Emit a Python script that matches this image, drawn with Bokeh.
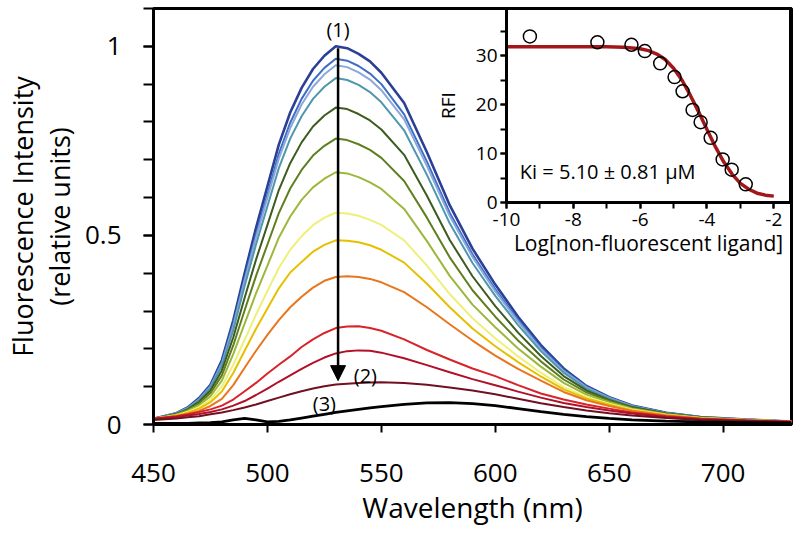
from bokeh.plotting import figure
from bokeh.models import Range1d, SingleIntervalTicker, Arrow, NormalHead, Label
from bokeh.embed import file_html
from bokeh.resources import INLINE

FONT = "Open Sans"

# ---------------- data: emission spectra ----------------
wavelength = [450, 460, 465, 470, 475, 480, 485, 490, 495, 500,
              505, 510, 515, 520, 525, 530, 535, 540, 545, 550,
              560, 570, 580, 590, 600, 610, 620, 630, 640, 650,
              660, 675, 690, 710, 730]

s_navy = [.015, .03, .045, .07, .105, .17, .275, .40, .52, .63,
          .74, .825, .89, .94, .975, 1.0, .995, .98, .96, .93,
          .85, .72, .58, .465, .37, .285, .21, .148, .102, .072,
          .05, .031, .02, .013, .008]
s_blue = [.015, .03, .044, .068, .102, .165, .266, .387, .503, .609,
          .716, .798, .861, .909, .943, .967, .962, .948, .928, .90,
          .82, .695, .56, .45, .358, .277, .204, .144, .1, .071,
          .049, .031, .02, .013, .008]
s_lightblue = [.015, .03, .043, .066, .1, .16, .26, .38, .494, .599,
               .703, .784, .846, .893, .926, .95, .945, .931, .912, .884,
               .807, .684, .551, .443, .352, .272, .2, .141, .098, .07,
               .049, .03, .019, .013, .008]
s_teal = [.015, .029, .042, .064, .097, .155, .25, .366, .476, .577,
          .678, .756, .815, .861, .893, .916, .911, .898, .879, .852,
          .778, .66, .532, .427, .34, .263, .194, .137, .095, .068,
          .048, .03, .019, .013, .008]
s_darkgreen = [.015, .028, .04, .06, .09, .143, .23, .335, .436, .528,
               .62, .691, .746, .788, .817, .838, .834, .821, .804, .78,
               .713, .605, .488, .392, .313, .243, .181, .128, .09, .065,
               .046, .029, .019, .012, .008]
s_olive = [.015, .027, .038, .056, .083, .13, .209, .302, .393, .476,
           .559, .624, .673, .711, .737, .756, .752, .741, .726, .705,
           .644, .547, .442, .355, .285, .222, .167, .119, .085, .062,
           .044, .028, .018, .012, .008]
s_yellowgreen = [.015, .026, .036, .051, .075, .116, .186, .267, .347, .42,
                 .494, .55, .594, .627, .65, .667, .664, .654, .64, .623,
                 .57, .485, .393, .317, .257, .201, .153, .11, .079, .059,
                 .042, .027, .018, .012, .008]
s_paleyellow = [.015, .024, .033, .046, .066, .10, .158, .224, .291, .353,
                .414, .462, .498, .527, .547, .56, .558, .552, .541, .528,
                .487, .42, .345, .281, .228, .18, .137, .099, .073, .055,
                .04, .026, .017, .012, .008]
s_gold = [.015, .023, .031, .042, .059, .087, .136, .195, .253, .307,
          .36, .402, .43, .457, .475, .487, .486, .482, .474, .462,
          .428, .372, .31, .254, .207, .165, .127, .093, .069, .052,
          .038, .025, .017, .012, .008]
s_orange = [.015, .022, .028, .036, .049, .068, .104, .15, .195, .237,
            .276, .31, .338, .362, .38, .39, .392, .39, .385, .376,
            .35, .31, .265, .222, .182, .147, .116, .086, .064, .049,
            .036, .024, .016, .011, .008]
s_red = [.015, .022, .027, .033, .04, .05, .066, .088, .11, .135,
         .158, .18, .205, .225, .242, .255, .259, .26, .255, .248,
         .225, .197, .172, .148, .128, .104, .082, .066, .053, .042,
         .032, .022, .015, .011, .007]
s_crimson = [.015, .02, .024, .028, .033, .04, .05, .062, .078, .095,
             .113, .13, .147, .163, .177, .188, .194, .196, .195, .19,
             .175, .157, .138, .12, .104, .087, .071, .057, .046, .037,
             .029, .02, .014, .01, .007]
s_maroon = [.012, .016, .019, .022, .027, .032, .038, .045, .053, .062,
            .071, .08, .088, .095, .101, .106, .108, .11, .111, .112,
            .11, .105, .098, .09, .08, .068, .056, .046, .037, .03,
            .024, .017, .012, .009, .006]
s_black = [.003, .003, .003, .004, .005, .007, .012, .016, .012, .007,
           .008, .012, .017, .022, .027, .032, .036, .04, .044, .047,
           .053, .057, .058, .055, .05, .042, .034, .027, .021, .016,
           .012, .009, .007, .005, .004]

spectra = [s_navy, s_blue, s_lightblue, s_teal, s_darkgreen, s_olive, s_yellowgreen,
           s_paleyellow, s_gold, s_orange, s_red, s_crimson, s_maroon, s_black]
spectra_colors = ["#2a3f95", "#3f6ec4", "#8aa8dc", "#4e97ad", "#3e5b1f", "#5f7f1e", "#9cb83a",
                  "#eef07a", "#e6c000", "#e8761e", "#d8232a", "#b01028", "#701020", "#000000"]
spectra_widths = [2.6, 2.0, 2.0, 2.0, 2.0, 2.0, 2.0, 2.0, 2.0, 2.0, 2.0, 2.0, 2.0, 2.8]

y_tick_labels = {0: "0", 0.5: "0.5", 1: "1"}
x_title = "Wavelength (nm)"
y_title = "Fluorescence Intensity\n(relative units)"

# annotations (data coordinates)
arrow_x, arrow_y0, arrow_y1 = 531, 0.995, 0.116
marks = [("(1)", 531, 1.045), ("(2)", 543, 0.13), ("(3)", 525, 0.055)]

# ---------------- data: inset (competition binding) ----------------
log_conc = [-9.30, -7.28, -6.26, -5.86, -5.40, -4.97, -4.73, -4.43, -4.19, -3.89, -3.53, -3.26, -2.84]
rfi = [33.9, 32.7, 32.2, 30.9, 28.4, 25.6, 22.7, 18.9, 16.4, 13.2, 8.8, 6.7, 3.7]
fit_x = [-10, -7, -6.5, -6, -5.75, -5.5, -5.25, -5, -4.75, -4.5, -4.25, -4, -3.75, -3.5,
         -3.25, -3, -2.75, -2.5, -2.25, -2]
fit_y = [31.8, 31.8, 31.7, 31.4, 31.0, 30.3, 29.2, 27.4, 25.0, 21.9, 18.5, 14.9, 11.4, 8.3,
         5.8, 3.9, 2.7, 1.9, 1.5, 1.3]
inset_x_tick_labels = {-10: "-10", -8: "-8", -6: "-6", -4: "-4", -2: "-2"}
ki_text = "Ki  = 5.10 \u00b1 0.81 \u03bcM"
ki_pos = (-9.6, 3.6)

# ---------------- main figure ----------------
p = figure(width=800, height=536, x_range=Range1d(450, 730), y_range=Range1d(0, 1.10),
           output_backend="svg", toolbar_location=None,
           min_border_left=153, min_border_right=9, min_border_top=8, min_border_bottom=112)
p.grid.visible = False
p.outline_line_color = "black"
p.outline_line_width = 3
p.background_fill_color = "white"

for ys, c, w in zip(spectra, spectra_colors, spectra_widths):
    p.line(wavelength, ys, line_color=c, line_width=w)

xa = p.xaxis[0]
xa.ticker = SingleIntervalTicker(interval=50, num_minor_ticks=0)
xa.axis_label = x_title
ya = p.yaxis[0]
ya.ticker = SingleIntervalTicker(interval=0.5, num_minor_ticks=5)
ya.major_label_overrides = y_tick_labels
ya.axis_label = y_title

for ax in (xa, ya):
    ax.axis_line_width = 3
    ax.axis_line_color = "black"
    ax.major_tick_line_width = 2
    ax.minor_tick_line_width = 2
    ax.major_tick_in = 0
    ax.minor_tick_in = 0
    ax.major_label_text_font = FONT
    ax.major_label_text_font_size = "26px"
    ax.major_label_text_color = "black"
    ax.axis_label_text_font = FONT
    ax.axis_label_text_font_style = "normal"
    ax.axis_label_text_color = "black"
xa.major_tick_out = 8
xa.minor_tick_out = 0
xa.major_label_standoff = 31
xa.axis_label_standoff = 3
xa.axis_label_text_font_size = "28px"
ya.major_tick_out = 10
ya.minor_tick_out = 10
ya.major_label_standoff = 22
ya.axis_label_standoff = 4
ya.axis_label_text_font_size = "27px"
ya.axis_label_text_line_height = 1.0

p.add_layout(Arrow(end=NormalHead(size=15, fill_color="black", line_color="black"),
                   x_start=arrow_x, y_start=arrow_y0, x_end=arrow_x, y_end=arrow_y1,
                   line_width=2.5, line_color="black"))
for t, lx, ly in marks:
    p.add_layout(Label(x=lx, y=ly, text=t, text_align="center", text_baseline="alphabetic",
                       text_font=FONT, text_font_size="20px", text_color="black"))

# ---------------- inset ----------------
inset = figure(width=362, height=264, x_range=Range1d(-10, -1.5), y_range=Range1d(0, 39.6),
               output_backend="svg", toolbar_location=None,
               min_border_left=76, min_border_right=2, min_border_top=8, min_border_bottom=62)
inset.styles = {"position": "absolute", "left": "430px", "top": "0px", "z-index": "10"}
inset.grid.visible = False
inset.outline_line_color = "black"
inset.outline_line_width = 3
inset.background_fill_color = "white"
inset.border_fill_alpha = 0

inset.line(fit_x, fit_y, line_color="#a3171b", line_width=3.5)
inset.scatter(log_conc, rfi, marker="circle", size=13, fill_alpha=0,
              line_color="black", line_width=1.5)
inset.add_layout(Label(x=ki_pos[0], y=ki_pos[1], text=ki_text, text_font=FONT,
                       text_font_size="20px", text_color="black"))

ixa = inset.xaxis[0]
ixa.ticker = SingleIntervalTicker(interval=2, num_minor_ticks=2)
ixa.major_label_overrides = inset_x_tick_labels
ixa.axis_label = "Log[non-fluorescent ligand]"
iya = inset.yaxis[0]
iya.ticker = SingleIntervalTicker(interval=10, num_minor_ticks=2)
iya.axis_label = "RFI"
for ax in (ixa, iya):
    ax.axis_line_width = 3
    ax.major_tick_line_width = 2
    ax.minor_tick_line_width = 2
    ax.major_tick_in = 0
    ax.minor_tick_in = 0
    ax.major_tick_out = 6
    ax.minor_tick_out = 6
    ax.major_label_text_font = FONT
    ax.major_label_text_font_size = "19px"
    ax.major_label_text_color = "black"
    ax.axis_label_text_font = FONT
    ax.axis_label_text_font_style = "normal"
    ax.axis_label_text_color = "black"
ixa.major_label_standoff = 4
ixa.axis_label_standoff = 0
ixa.axis_label_text_font_size = "21px"
iya.major_label_standoff = 3
iya.axis_label_standoff = 12
iya.axis_label_text_font_size = "19px"

open("out.html", "w").write(file_html([p, inset], INLINE))
